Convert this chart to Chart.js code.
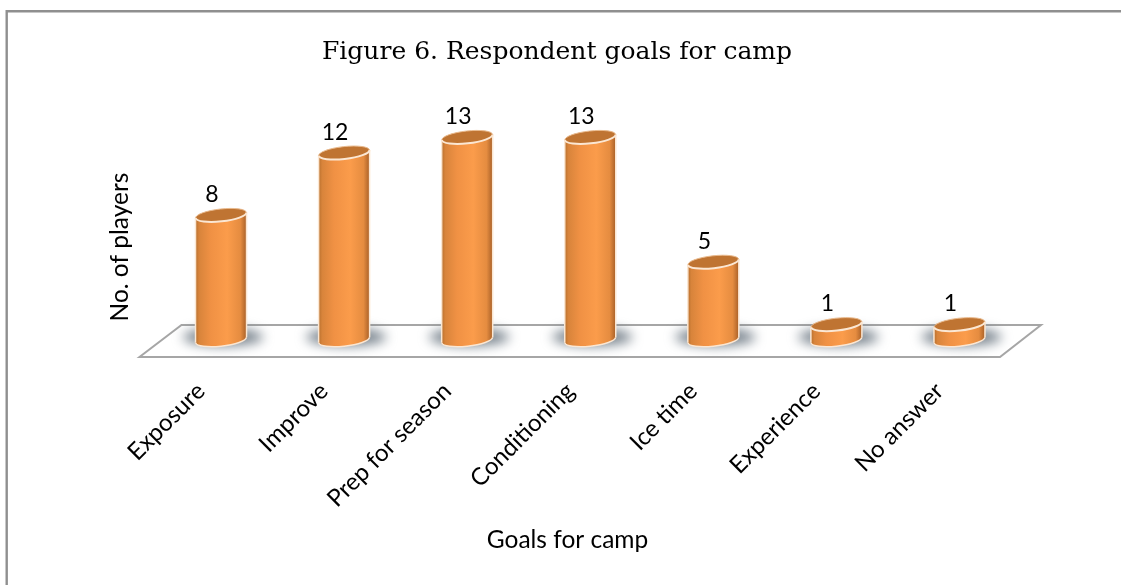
<!DOCTYPE html>
<html><head><meta charset="utf-8">
<script src="https://cdn.jsdelivr.net/npm/chart.js@4"></script>
<style>html,body{margin:0;padding:0;background:#fff;overflow:hidden}canvas{display:block}</style>
</head><body><canvas id="c" width="1121" height="585"></canvas>
<script>
const categories=["Exposure","Improve","Prep for season","Conditioning","Ice time","Experience","No answer"];
const players=[8,12,13,13,5,1,1];
const chartTitle="Figure 6. Respondent goals for camp";
const xTitle="Goals for camp";
const yTitle="No. of players";
const labelFont='Lato';
const tilt=-0.11;

function ellipse(ctx,x,y,rx,ry){ctx.beginPath();ctx.ellipse(x,y,rx,ry,tilt,0,Math.PI*2);}
function bodyGradient(ctx,x,w){
  const g=ctx.createLinearGradient(x-w/2,0,x+w/2,0);
  g.addColorStop(0,'#b8702e');g.addColorStop(0.07,'#d8843b');g.addColorStop(0.3,'#f09144');
  g.addColorStop(0.62,'#fb9c4b');g.addColorStop(0.88,'#e58c40');g.addColorStop(1,'#a86028');
  return g;
}
const cylinders={
  id:'cylinders',
  beforeDraw(chart){
    const {ctx,width,height}=chart;
    ctx.save();
    ctx.fillStyle='#fff';ctx.fillRect(0,0,width,height);
    ctx.strokeStyle='#8f8f8f';ctx.lineWidth=2.4;
    ctx.beginPath();ctx.moveTo(6.7,height);ctx.lineTo(6.7,11.3);ctx.lineTo(width,11.3);ctx.stroke();
    ctx.restore();
  },
  beforeDatasetsDraw(chart){
    const {ctx,chartArea:a,scales}=chart;
    const y0=scales.y.getPixelForValue(0);
    ctx.save();
    ctx.beginPath();
    ctx.moveTo(a.left+22,y0-15);ctx.lineTo(a.right+20,y0-15);
    ctx.lineTo(a.right-21,y0+17);ctx.lineTo(a.left-20,y0+17);ctx.closePath();
    ctx.fillStyle='#fff';ctx.fill();
    ctx.strokeStyle='#a6a6a6';ctx.lineWidth=2;ctx.stroke();
    chart.getDatasetMeta(0).data.forEach(b=>{
      ctx.save();
      ctx.filter='blur(6px)';
      ctx.fillStyle='rgba(95,108,120,0.85)';
      ctx.beginPath();ctx.ellipse(b.x+2,y0-3,40,9,0,0,Math.PI*2);ctx.fill();
      ctx.restore();
    });
    ctx.restore();
  },
  afterDatasetsDraw(chart){
    const {ctx,chartArea:a}=chart;
    const cream='#fbe7d3';
    chart.getDatasetMeta(0).data.forEach((b,i)=>{
      const w=b.width,rx=w/2,ry=6.2,dy=Math.sin(-tilt)*rx;
      ctx.save();
      ctx.fillStyle=bodyGradient(ctx,b.x,w);
      ctx.beginPath();
      ctx.moveTo(b.x-rx,b.y+dy);ctx.lineTo(b.x+rx,b.y-dy);
      ctx.lineTo(b.x+rx,b.base-dy);ctx.lineTo(b.x-rx,b.base+dy);ctx.closePath();
      ctx.fill();
      ellipse(ctx,b.x,b.base,rx,ry);ctx.fill();
      ctx.strokeStyle=cream;ctx.lineWidth=1.5;
      ctx.beginPath();ctx.ellipse(b.x,b.base,rx,ry,tilt,0.02,Math.PI-0.02);ctx.stroke();
      ctx.beginPath();ctx.moveTo(b.x-rx,b.y+dy);ctx.lineTo(b.x-rx,b.base+dy);
      ctx.moveTo(b.x+rx,b.y-dy);ctx.lineTo(b.x+rx,b.base-dy);ctx.stroke();
      ellipse(ctx,b.x,b.y,rx,ry);
      ctx.fillStyle='#bf7432';ctx.fill();
      ctx.strokeStyle=cream;ctx.lineWidth=2;
      ctx.beginPath();ctx.ellipse(b.x,b.y,rx,ry,tilt,0,Math.PI);ctx.stroke();
      ctx.lineWidth=1;ctx.strokeStyle='#e9b98c';
      ctx.beginPath();ctx.ellipse(b.x,b.y,rx,ry,tilt,Math.PI,Math.PI*2);ctx.stroke();
      ctx.fillStyle='#000';ctx.font='23px '+labelFont;ctx.textAlign='center';ctx.textBaseline='alphabetic';
      ctx.fillText(String(players[i]),b.x-9,b.y-13);
      ctx.restore();
    });
    ctx.save();
    ctx.fillStyle='#000';ctx.font='24.5px '+labelFont;ctx.textAlign='center';ctx.textBaseline='middle';
    ctx.fillText(xTitle,a.left+408,540);
    ctx.translate(120,a.bottom-93);ctx.rotate(-Math.PI/2);
    ctx.fillText(yTitle,0,0);
    ctx.restore();
  }
};
new Chart(document.getElementById('c'),{
  type:'bar',
  data:{labels:categories,datasets:[{data:players,barThickness:51,borderWidth:0,backgroundColor:'rgba(0,0,0,0)'}]},
  options:{
    responsive:false,animation:false,
    layout:{padding:{left:93,right:100,top:0,bottom:17}},
    plugins:{legend:{display:false},tooltip:{enabled:false},
      title:{display:true,text:chartTitle,color:'#000',
        font:{family:'"DejaVu Serif"',size:25,weight:'normal'},padding:{top:37,bottom:0}}},
    scales:{
      x:{grid:{display:false,drawTicks:false},border:{display:false},
        afterFit(s){s.height=228;},
        ticks:{color:'#000',maxRotation:45,minRotation:45,padding:37,labelOffset:-20,font:{family:labelFont,size:24}}},
      y:{min:0,max:17.5,grid:{display:false,drawTicks:false},border:{display:false},
        afterFit(s){s.width=66.5;},
        ticks:{display:false}}
    }
  },
  plugins:[cylinders]
});
</script></body></html>
